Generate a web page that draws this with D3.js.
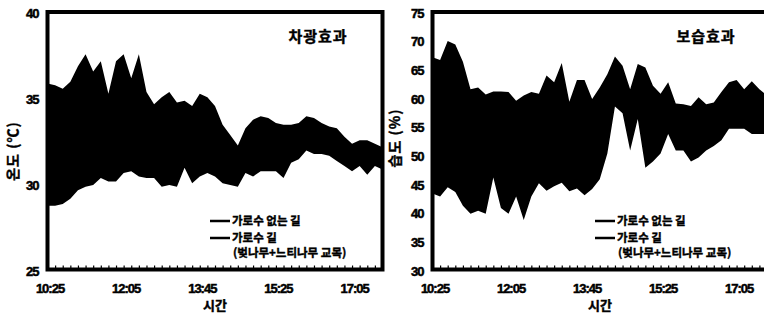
<!DOCTYPE html>
<html><head><meta charset="utf-8">
<script src="https://cdn.jsdelivr.net/npm/d3@7"></script>
<style>body{margin:0;background:#fff}svg{display:block}</style>
</head><body><svg id="c" width="764" height="317"></svg>
<script>
// ---- data ----
const times = ["10:25","10:35","10:45","10:55","11:05","11:15","11:25","11:35","11:45","11:55",
  "12:05","12:15","12:25","12:35","12:45","12:55","13:05","13:15","13:25","13:35",
  "13:45","13:55","14:05","14:15","14:25","14:35","14:45","14:55","15:05","15:15",
  "15:25","15:35","15:45","15:55","16:05","16:15","16:25","16:35","16:45","16:55",
  "17:05","17:15","17:25","17:35","17:45"];
const timeLabels = ["10:25","12:05","13:45","15:25","17:05"];
const tempTicks = [25,30,35,40];
const humTicks = [30,35,40,45,50,55,60,65,70,75];
const seriesNames = ["가로수 없는 길","가로수 길"];
const seriesNote = "(벚나무+느티나무 교목)";
// temperature (°C)
const tempNoTrees = [35.9,35.8,35.6,36.0,36.9,37.6,36.6,37.2,35.3,37.2,
  37.6,36.2,37.6,35.4,34.7,35.1,35.4,34.8,34.9,34.6,
  35.3,35.1,34.6,33.5,32.9,32.3,33.3,33.8,34.0,33.9,
  33.6,33.5,33.5,33.6,34.0,33.9,33.6,33.4,33.3,32.8,
  32.4,32.6,32.6,32.4,32.2];
const tempTrees = [28.8,28.8,28.9,29.2,29.7,29.9,30.0,30.4,30.2,30.2,
  30.7,30.8,30.5,30.4,30.4,29.9,30.0,29.9,31.0,30.1,
  30.5,30.7,30.5,30.1,30.0,29.9,30.7,30.5,30.8,30.8,
  30.8,30.4,31.3,31.5,32.0,31.8,31.8,31.7,31.4,31.1,
  30.8,31.1,30.6,31.1,30.9];
// humidity (%)
const humTrees = [67.3,66.8,70.1,69.5,66.5,61.7,62.0,60.8,61.3,61.3,
  61.2,59.7,60.6,61.2,60.9,64.1,62.9,66.3,59.5,63.3,
  63.3,60.0,62.0,64.3,67.4,65.8,61.7,66.1,65.5,62.3,
  60.9,62.9,59.2,59.1,58.8,60.3,59.1,59.4,61.2,62.9,
  63.3,61.7,63.1,61.7,60.6];
const humNoTrees = [43.5,43.0,44.6,43.8,41.4,40.0,40.5,40.0,46.3,41.0,
  40.0,43.0,38.9,43.0,45.3,44.0,44.8,45.4,43.9,44.4,
  43.2,44.3,46.0,50.5,58.7,57.5,51.0,56.5,48.0,49.1,
  50.5,53.9,51.0,51.0,49.1,49.8,51.0,51.8,52.8,54.8,
  54.8,54.8,53.9,53.9,53.9];

const svg = d3.select("#c");
const FONT = "'Liberation Sans', Arial, sans-serif";
const KFONT = "'Noto Sans CJK KR', 'Noto Sans', sans-serif";

function heavy(sel, w){
  sel.attr("stroke","#000").attr("stroke-width",w).attr("paint-order","stroke");
}

function panel(cfg){
  const {id, left, right, top, bottom, yDomain, yTicks, hi, lo, title, titleX, yLabel, yLabelX, yLabelY, xTitleX, legX} = cfg;
  const g = svg.append("g");
  const x = d3.scalePoint().domain(times).range([left, right]).padding(0);
  const y = d3.scaleLinear().domain(yDomain).range([271, 13]);
  g.append("clipPath").attr("id", "clip"+id).append("rect")
    .attr("x", left).attr("y", top).attr("width", right-left).attr("height", bottom-top);
  const data = times.map((t,i)=>({t, hi:hi[i], lo:lo[i]}));
  const area = d3.area().x(d=>x(d.t)).y0(d=>y(d.lo)).y1(d=>y(d.hi));
  g.append("path").datum(data).attr("d", area).attr("fill","#000")
    .attr("clip-path","url(#clip"+id+")");
  // bottom inner ticks
  const ax = g.append("g").attr("transform",`translate(0,${bottom})`)
    .call(d3.axisTop(x).tickValues(times).tickSize(4).tickFormat(""));
  ax.select(".domain").remove();
  ax.selectAll("line").attr("stroke","#000").attr("stroke-width",1.2);
  // frame
  g.append("rect").attr("x",left).attr("y",top).attr("width",right-left).attr("height",bottom-top)
    .attr("fill","none").attr("stroke","#000").attr("stroke-width",4);
  // x tick labels
  const xl = g.append("g").attr("transform",`translate(2,${bottom+10})`)
    .call(d3.axisBottom(x).tickValues(timeLabels).tickSize(0).tickPadding(4));
  xl.select(".domain").remove();
  xl.selectAll("text").attr("font-family",FONT).attr("font-weight","bold")
    .attr("font-size",13).attr("letter-spacing",-1).attr("fill","#000").call(heavy,0.5);
  // y tick labels
  const yl = g.append("g").attr("transform",`translate(${left-9},0)`)
    .call(d3.axisLeft(y).tickValues(yTicks).tickSize(0).tickPadding(0));
  yl.select(".domain").remove();
  yl.selectAll("text").attr("font-family",FONT).attr("font-weight","bold")
    .attr("font-size",13).attr("letter-spacing",-1).attr("fill","#000").call(heavy,0.5);
  // title
  g.append("text").attr("x",titleX).attr("y",42).attr("text-anchor","middle")
    .attr("font-family",KFONT).attr("font-weight","bold").attr("font-size",15)
    .attr("letter-spacing",1).text(title).call(heavy,0.4);
  // axis titles
  g.append("text").attr("x",xTitleX).attr("y",310).attr("text-anchor","middle")
    .attr("font-family",KFONT).attr("font-weight","bold").attr("font-size",13).text("시간").call(heavy,0.4);
  g.append("text").attr("transform",`translate(${yLabelX},${yLabelY}) rotate(-90)`)
    .attr("text-anchor","middle").attr("font-family",KFONT).attr("font-weight","bold")
    .attr("font-size",14).attr("letter-spacing",1).text(yLabel).call(heavy,0.4);
  // legend
  const lg = g.append("g").attr("font-family",KFONT).attr("font-weight","bold").attr("font-size",11.5);
  seriesNames.forEach((n,i)=>{
    const yy = 221 + i*17;
    lg.append("line").attr("x1",legX).attr("x2",legX+20).attr("y1",yy).attr("y2",yy)
      .attr("stroke","#000").attr("stroke-width",2.5);
    lg.append("text").attr("x",legX+22).attr("y",yy+4).text(n).call(heavy,0.4);
  });
  lg.append("text").attr("x",legX+23).attr("y",257).text(seriesNote).call(heavy,0.4);
}

panel({id:"t", left:47.5, right:382.5, top:12, bottom:269.5, yDomain:[25,40], yTicks:tempTicks,
  hi:tempNoTrees, lo:tempTrees, title:"차광효과", titleX:318, yLabel:"온도 (℃)", yLabelX:18, yLabelY:151,
  xTitleX:215, legX:210});
panel({id:"h", left:432.5, right:767, top:12, bottom:269.5, yDomain:[30,75], yTicks:humTicks,
  hi:humTrees, lo:humNoTrees, title:"보습효과", titleX:706, yLabel:"습도 (%)", yLabelX:400, yLabelY:138,
  xTitleX:600, legX:595});
</script></body></html>
